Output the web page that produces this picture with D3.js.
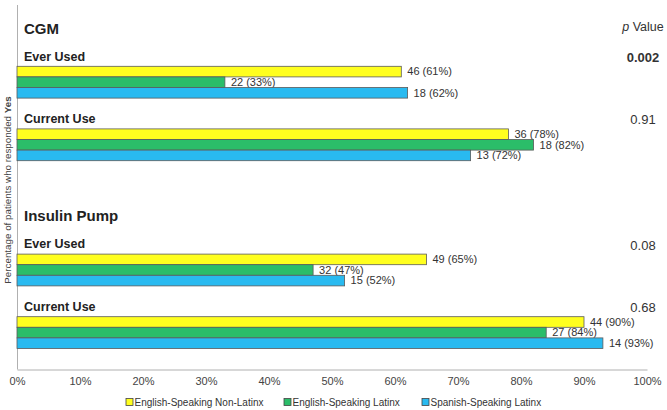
<!DOCTYPE html>
<html><head><meta charset="utf-8">
<script src="https://cdn.jsdelivr.net/npm/d3@7"></script>
<style>body{margin:0;background:#fff}svg{display:block;font-family:"Liberation Sans",Arial,sans-serif}</style>
</head><body><svg id="c" width="667" height="410"></svg>
<script>
const series = ["English-Speaking Non-Latinx","English-Speaking Latinx","Spanish-Speaking Latinx"];
const colors = ["#ffff1f","#2bbd69","#29baf0"];
const groups = ["CGM","Insulin Pump"];
const subgroups = ["Ever Used","Current Use"];
const slots = ["CGM|Ever Used","CGM|Current Use","gap","Insulin Pump|Ever Used","Insulin Pump|Current Use"];
const pctValues = [[61,33,62],[78,82,72],[65,47,52],[90,84,93]];
const countValues = [[46,22,18],[36,18,13],[49,32,15],[44,27,14]];
const pValues = ["0.002","0.91","0.08","0.68"];
const pBold = [true,false,false,false];
const xTicks = [0,10,20,30,40,50,60,70,80,90,100];

const svg = d3.select("#c");
const x = d3.scaleLinear().domain([0,100]).range([17,647]);
const y = d3.scaleBand().domain(slots).range([66.3, 66.3+62.6*5]).paddingInner(0).paddingOuter(0);
const inner = d3.scaleBand().domain(series).range([0,31.8]);

const rows = [];
let k = 0;
groups.forEach(g => subgroups.forEach(s => { rows.push({g, s, key: g+"|"+s, i: k}); k++; }));

// axes
svg.append("line").attr("x1",17.5).attr("x2",17.5).attr("y1",5).attr("y2",369.5).attr("stroke","#b0b0b0");
const xa = svg.append("g").attr("transform","translate(0,369.5)")
  .call(d3.axisBottom(x).tickValues(xTicks).tickSize(0).tickPadding(8).tickFormat(d=>d+"%"));
xa.select(".domain").attr("stroke","#b0b0b0");
xa.selectAll("text").attr("font-size",11).attr("fill","#444").attr("font-family","Liberation Sans, Arial, sans-serif");

// bars
rows.forEach(r => {
  const g = svg.append("g").attr("transform",`translate(0,${y(r.key)})`);
  series.forEach((s,j) => {
    g.append("rect").attr("x",x(0)).attr("y",inner(s)).attr("width",x(pctValues[r.i][j])-x(0))
      .attr("height",inner.bandwidth()).attr("fill",colors[j]).attr("stroke","#5a5a5a").attr("stroke-width",0.8);
    g.append("text").attr("x",x(pctValues[r.i][j])+6).attr("y",inner(s)+inner.bandwidth()/2)
      .attr("dy","0.35em").attr("font-size",11).attr("fill","#333")
      .text(`${countValues[r.i][j]} (${pctValues[r.i][j]}%)`);
  });
  svg.append("text").attr("x",24).attr("y",y(r.key)-10).attr("dy","0.35em")
    .attr("font-size",12.5).attr("font-weight","bold").attr("fill","#222").text(r.s);
  svg.append("text").attr("x",643).attr("y",y(r.key)-9).attr("dy","0.35em").attr("text-anchor","middle")
    .attr("font-size",13).attr("font-weight",pBold[r.i]?"bold":"normal").attr("fill","#333").text(pValues[r.i]);
});
groups.forEach(g => {
  svg.append("text").attr("x",24).attr("y",y(g+"|Ever Used")-38).attr("dy","0.35em")
    .attr("font-size",15).attr("font-weight","bold").attr("fill","#222").text(g);
});
const pv = svg.append("text").attr("x",643).attr("y",27).attr("dy","0.35em").attr("text-anchor","middle")
  .attr("font-size",12.5).attr("fill","#333");
pv.append("tspan").attr("font-style","italic").text("p");
pv.append("tspan").text(" Value");

// y title
const yt = svg.append("text").attr("transform","translate(8,190) rotate(-90)").attr("text-anchor","middle")
  .attr("dy","0.35em").attr("font-size",9.8).attr("fill","#444");
yt.append("tspan").text("Percentage of patients who responded ");
yt.append("tspan").attr("font-weight","bold").text("Yes");

// legend
const legX = [126, 284, 422];
series.forEach((s,j) => {
  const lg = svg.append("g").attr("transform",`translate(${legX[j]},402)`);
  lg.append("rect").attr("x",0).attr("y",-3.5).attr("width",7).attr("height",7).attr("fill",colors[j]).attr("stroke","#444").attr("stroke-width",0.8);
  lg.append("text").attr("x",8.5).attr("y",0).attr("dy","0.35em").attr("font-size",10).attr("fill","#333").text(s);
});
</script></body></html>
